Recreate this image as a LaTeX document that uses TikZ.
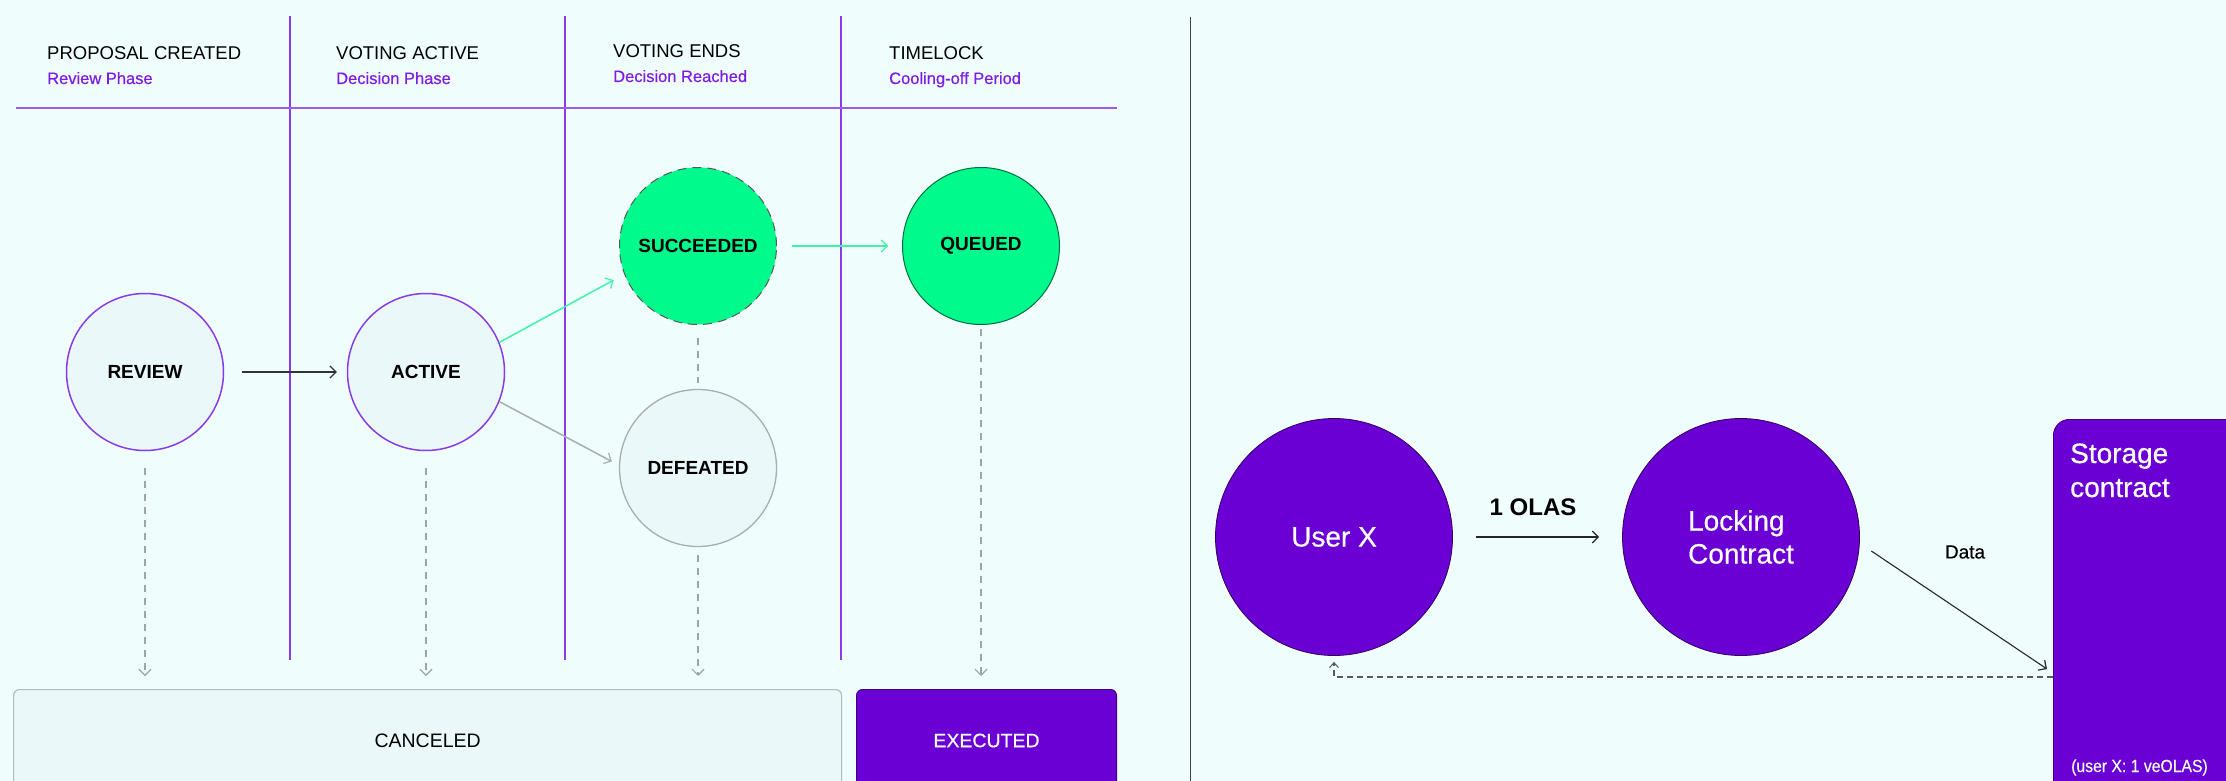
\documentclass[tikz,border=0pt]{standalone}
\usepackage{fontspec}
\setmainfont{Liberation Sans}
\newfontfamily\medfont[FakeBold=0.5]{Liberation Sans}
\newfontfamily\narrowmed[FakeBold=0.3,FakeStretch=0.9]{Liberation Sans}
\usetikzlibrary{arrows.meta}
\definecolor{bg}{HTML}{F0FDFD}
\definecolor{cfill}{HTML}{EAF8F9}
\definecolor{mainpurple}{HTML}{6A00D4}
\definecolor{linepurple}{HTML}{8A3BE8}
\definecolor{hlinepurple}{HTML}{9D5CF2}
\definecolor{subpurple}{HTML}{7E1CE6}
\definecolor{green}{HTML}{00FA8C}
\definecolor{greenline}{HTML}{40F2A6}
\definecolor{graybd}{HTML}{A8AEAE}
\definecolor{dashgray}{HTML}{9DA5A5}
\definecolor{boxgray}{HTML}{B4BDBD}
\begin{document}
\begin{tikzpicture}[x=1pt,y=-1pt,
  hdr/.style={anchor=base west, inner sep=0pt, font=\fontsize{18.5}{20}\selectfont, text=black},
  sub/.style={anchor=base west, inner sep=0pt, font=\medfont\fontsize{16.5}{18}\selectfont, text=subpurple},
  state/.style={circle, minimum size=157pt, inner sep=0pt, font=\fontsize{19}{20}\selectfont\bfseries},
  lightstate/.style={state, draw=linepurple, line width=1.5pt, fill=cfill},
  greenstate/.style={state, fill=green},
  bigstate/.style={circle, minimum size=237pt, inner sep=0pt, fill=mainpurple, draw=black!55!mainpurple, line width=0.8pt, text=white, font=\medfont\fontsize{28}{33}\selectfont},
  endbox/.style={anchor=north west, rounded corners=6pt, minimum height=102pt, font=\fontsize{19.5}{22}\selectfont},
  barb/.style={-{Straight Barb[length=6pt,width=12pt,line width=1.2pt]}},
  dasharr/.style={barb, draw=dashgray, line width=1.3pt, dash pattern=on 7pt off 6pt},
]
\useasboundingbox (0,0) rectangle (2226,781);
\clip (0,0) rectangle (2226,781);
\fill[bg] (0,0) rectangle (2226,781);

% phase grid
\draw[linepurple, line width=1.3pt] (290,16) -- (290,660);
\draw[linepurple, line width=1.3pt] (565,16) -- (565,660);
\draw[linepurple, line width=1.3pt] (841,16) -- (841,660);
\draw[hlinepurple, line width=2pt] (16,108) -- (1117,108);
\draw[black!75, line width=1pt] (1190,17) -- (1190,781);

% headers
\node[hdr] (h1) at (47,60) {PROPOSAL CREATED};
\node[sub] (s1) at (47,84) {Review Phase};
\node[hdr] (h2) at (336,60) {VOTING ACTIVE};
\node[sub] (s2) at (336,84) {Decision Phase};
\node[hdr] (h3) at (613,58) {VOTING ENDS};
\node[sub] (s3) at (613,82) {Decision Reached};
\node[hdr] (h4) at (889,60) {TIMELOCK};
\node[sub] (s4) at (889,84) {Cooling-off Period};

% states
\node[lightstate] (review) at (145,372) {REVIEW};
\node[lightstate] (active) at (426,372) {ACTIVE};
\node[greenstate, draw=black!65, line width=1pt, dash pattern=on 9pt off 6pt] (succeeded) at (698,246) {SUCCEEDED};
\node[greenstate, draw=black!55!green, line width=1pt] (queued) at (981,246) {QUEUED};
\node[state, draw=graybd, line width=1.3pt, fill=cfill] (defeated) at (698,468) {DEFEATED};

% end boxes
\node[endbox, draw=boxgray, line width=1.2pt, fill=cfill, minimum width=828pt] (canceled) at (13,689) {CANCELED};
\node[endbox, draw=black!40!mainpurple, line width=1pt, fill=mainpurple, text=white, minimum width=260pt, font=\medfont\fontsize{19.5}{22}\selectfont] (executed) at (856,689) {EXECUTED};

% transitions
\draw[barb, black!80, line width=1.3pt, shorten <=18pt, shorten >=10pt] (review.east) -- (active.west);
\draw[barb, greenline, line width=1.5pt, shorten >=12pt] (active.22) -- (succeeded.201);
\draw[barb, graybd, line width=1.5pt, shorten >=8pt] (active.-22) -- (defeated.178);
\draw[barb, greenline, line width=1.5pt, shorten <=15pt, shorten >=14pt] (succeeded.east) -- (queued.west);
\draw[dashgray, line width=1.3pt, dash pattern=on 7pt off 6pt, shorten <=13pt, shorten >=6pt] (succeeded.south) -- (defeated.north);

\draw[dasharr, shorten <=17pt, shorten >=13pt] (review.south) -- (review.south |- canceled.north);
\draw[dasharr, shorten <=17pt, shorten >=13pt] (active.south) -- (active.south |- canceled.north);
\draw[dasharr, shorten <=8pt, shorten >=13pt] (defeated.south) -- (defeated.south |- canceled.north);
\draw[dasharr, shorten <=4pt, shorten >=13pt] (queued.south) -- (queued.south |- executed.north);

% right panel
\node[bigstate] (userx) at (1334,537) {User X};
\node[bigstate, align=left] (locking) at (1741,537) {Locking\\Contract};
\node[anchor=north west, rounded corners=16pt, fill=mainpurple, draw=black!40!mainpurple, line width=0.8pt, minimum width=220pt, minimum height=420pt] (storage) at (2053,419) {};
\node[anchor=base west, inner sep=0pt, align=left, text=white, font=\medfont\fontsize{28}{34}\selectfont] (stlabel) at (2070,497) {Storage\\contract};
\node[anchor=base west, inner sep=0pt, text=white, font=\narrowmed\fontsize{17.5}{20}\selectfont] (stnote) at (2071,772) {(user X: 1 veOLAS)};

\coordinate (dtip) at (2047,669);
\coordinate (retstart) at (2053,677);

\draw[barb, black!85, line width=1.3pt, shorten <=23pt, shorten >=23pt] (userx.east) -- (locking.west);
\node[font=\fontsize{24}{26}\selectfont\bfseries] (olas) at (1533,507) {1 OLAS};
\draw[barb, black!85, line width=1.1pt, shorten <=14pt] (locking.-3) -- (dtip);
\node[font=\medfont\fontsize{19}{22}\selectfont] (data) at (1965,552) {Data};
\draw[-{Straight Barb[length=5pt,width=9pt,line width=1pt]}, black!65, line width=1.5pt, dash pattern=on 6pt off 4pt, shorten >=6pt] (retstart) -| (userx.south);
\end{tikzpicture}
\end{document}
